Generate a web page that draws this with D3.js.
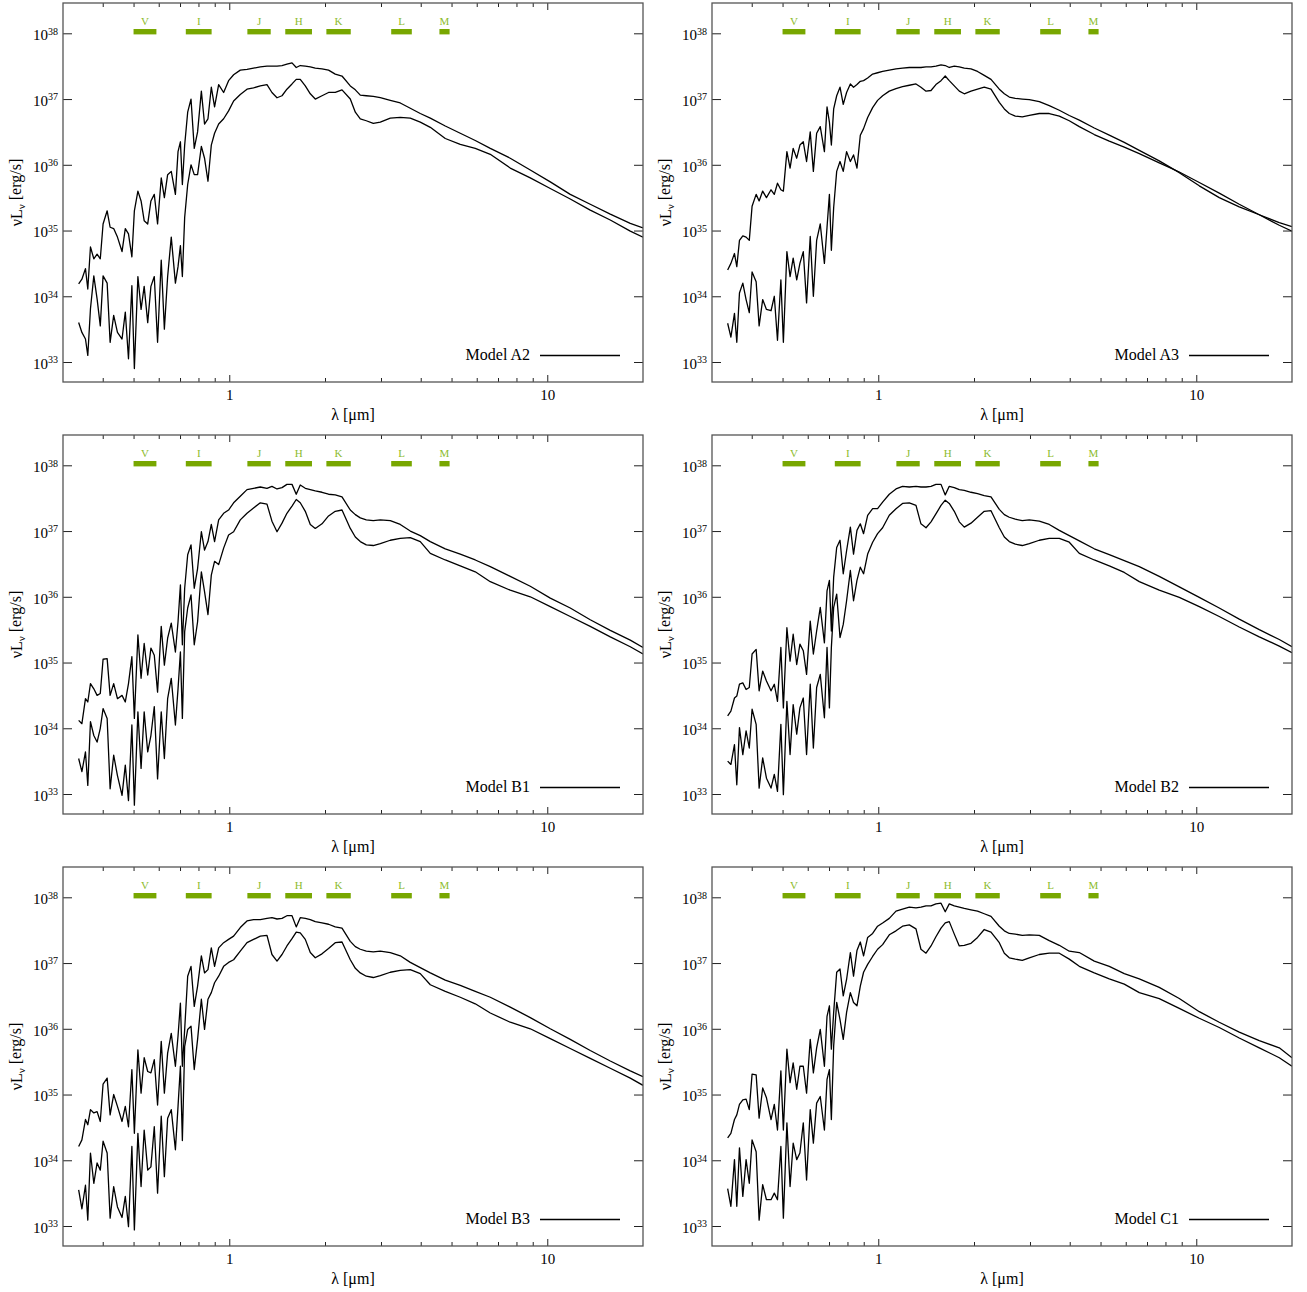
<!DOCTYPE html>
<html><head><meta charset="utf-8">
<script src="https://cdn.jsdelivr.net/npm/d3@7"></script>
<style>
body{margin:0;background:#fff}
svg{display:block}
text{font-family:"Liberation Serif","DejaVu Serif",serif}
</style>
</head><body>
<svg id="c" width="1307" height="1292"></svg>
<script>
// wavelength grid (micron)
const lam = [0.336,0.344,0.353,0.359,0.366,0.375,0.384,0.393,0.401,0.413,
0.422,0.433,0.445,0.460,0.471,0.482,0.494,0.503,0.516,0.528,
0.540,0.554,0.567,0.581,0.595,0.611,0.625,0.640,0.657,0.677,
0.690,0.702,0.712,0.724,0.740,0.758,0.776,0.795,0.817,0.836,
0.857,0.878,0.899,0.926,0.960,0.995,1.032,1.083,1.137,1.192,
1.252,1.314,1.362,1.413,1.465,1.518,1.575,1.624,1.672,1.734,
1.798,1.864,1.957,2.052,
2.154,2.262,2.402,2.491,2.582,2.697,2.837,2.985,3.209,3.449,3.709,3.987,4.287,4.778,5.326,5.937,6.619,7.648,8.842,10.22,11.81,13.65,15.78,18.24,20.0];

// log10(nu L_nu [erg/s]) for each model, upper and lower spectrum
const A2_hi = [34.19,34.26,34.42,34.11,34.75,34.57,34.64,34.57,35.10,35.30,
35.05,35.03,34.90,34.68,35.03,34.95,34.60,35.30,35.60,35.45,
35.15,35.10,35.45,35.55,35.10,35.80,35.50,35.85,35.90,35.55,
36.20,36.35,35.70,36.30,36.80,37.00,36.25,36.50,37.12,36.62,
36.70,37.18,36.88,37.22,37.10,37.28,37.37,37.44,37.45,37.47,
37.49,37.50,37.50,37.50,37.51,37.53,37.55,37.48,37.51,37.50,
37.49,37.47,37.46,37.44,
37.38,37.35,37.20,37.14,37.06,37.05,37.04,37.02,36.98,36.94,36.86,36.78,36.71,36.59,36.48,36.37,36.25,36.10,35.92,35.74,35.55,35.40,35.25,35.11,35.04];
const A2_lo = [33.60,33.45,33.35,33.10,33.81,34.31,33.96,33.55,34.31,34.20,
33.30,33.71,33.45,33.35,33.76,33.05,34.16,32.90,34.30,33.80,
34.15,33.60,34.15,34.30,33.30,34.55,33.50,34.30,34.90,34.20,
34.45,34.77,34.30,35.20,35.70,36.00,35.85,35.85,36.28,36.10,
35.75,36.30,36.48,36.62,36.70,36.82,36.97,37.07,37.15,37.17,
37.20,37.22,37.10,37.02,37.05,37.15,37.23,37.30,37.30,37.20,
37.08,37.00,37.05,37.10,
37.10,37.14,37.00,36.80,36.70,36.67,36.63,36.65,36.71,36.72,36.71,36.65,36.57,36.40,36.31,36.25,36.16,35.95,35.80,35.64,35.48,35.31,35.16,34.99,34.90];
const A3_hi = [34.40,34.50,34.65,34.45,34.85,34.92,34.90,34.85,35.37,35.55,
35.45,35.60,35.50,35.62,35.55,35.72,35.62,35.60,36.20,35.95,
36.25,36.10,36.30,36.35,36.05,36.50,35.90,36.48,36.58,36.20,
36.88,36.65,36.30,36.85,37.05,37.18,36.92,37.10,37.23,37.18,
37.22,37.27,37.28,37.32,37.38,37.40,37.42,37.44,37.46,37.47,
37.48,37.48,37.48,37.49,37.49,37.50,37.52,37.51,37.48,37.50,
37.49,37.47,37.46,37.42,
37.36,37.30,37.15,37.08,37.03,37.01,37.00,36.99,36.96,36.90,36.83,36.75,36.68,36.56,36.45,36.34,36.22,36.06,35.88,35.68,35.50,35.36,35.24,35.12,35.06];
const A3_lo = [33.59,33.38,33.74,33.30,34.05,34.20,33.95,33.75,34.37,34.22,
33.55,33.95,33.80,33.78,34.00,33.33,34.25,33.30,34.68,34.30,
34.58,34.25,34.50,34.68,33.90,34.91,34.00,34.85,35.10,34.50,
35.05,35.55,34.70,35.35,35.90,36.05,35.90,36.20,36.05,36.15,
35.95,36.45,36.55,36.72,36.87,36.98,37.05,37.12,37.16,37.19,
37.21,37.23,37.18,37.12,37.13,37.22,37.28,37.35,37.28,37.20,
37.12,37.08,37.12,37.15,
37.18,37.15,36.95,36.85,36.78,36.74,36.73,36.75,36.78,36.78,36.74,36.67,36.58,36.46,36.36,36.27,36.17,36.03,35.89,35.73,35.57,35.40,35.24,35.08,34.99];
const B1_hi = [34.12,34.07,34.45,34.40,34.68,34.60,34.50,34.53,35.05,35.06,
34.50,34.68,34.45,34.50,34.40,34.68,35.09,34.15,35.42,34.76,
35.29,34.81,35.22,35.11,34.55,35.55,34.96,35.37,35.60,35.16,
35.62,36.18,35.27,36.13,36.64,36.79,36.13,36.43,36.99,36.71,
36.84,37.10,36.84,37.17,37.27,37.32,37.43,37.53,37.63,37.65,
37.67,37.65,37.68,37.64,37.66,37.71,37.71,37.56,37.70,37.65,
37.63,37.61,37.59,37.56,
37.55,37.52,37.32,37.25,37.20,37.17,37.16,37.17,37.16,37.10,37.00,36.93,36.84,36.73,36.65,36.56,36.46,36.31,36.16,35.98,35.83,35.65,35.49,35.34,35.23];
const B1_lo = [33.54,33.34,33.64,33.13,34.10,33.89,33.79,34.00,34.30,34.15,
33.08,33.59,33.28,32.98,33.44,32.90,34.05,32.83,34.25,33.39,
34.25,33.64,33.89,34.33,33.23,34.25,33.54,34.45,34.76,34.05,
34.60,35.16,34.15,35.47,35.83,36.03,35.27,35.62,36.38,36.08,
35.73,36.33,36.54,36.49,36.74,36.94,36.99,37.17,37.27,37.35,
37.43,37.41,37.15,36.99,37.12,37.27,37.38,37.48,37.43,37.30,
37.10,37.04,37.11,37.23,
37.30,37.32,37.04,36.91,36.84,36.79,36.78,36.81,36.86,36.89,36.90,36.84,36.66,36.56,36.47,36.38,36.23,36.10,36.00,35.85,35.70,35.55,35.39,35.24,35.13];
const B2_hi = [34.19,34.26,34.46,34.49,34.67,34.69,34.59,34.62,35.13,35.20,
34.57,34.87,34.72,34.57,34.67,34.41,35.23,34.31,35.53,35.02,
35.43,34.97,35.28,35.18,34.82,35.63,35.13,35.48,35.84,35.30,
36.09,36.25,35.48,36.30,36.75,36.86,36.35,36.70,37.06,36.65,
37.01,37.11,36.96,37.24,37.34,37.34,37.44,37.56,37.64,37.68,
37.67,37.68,37.67,37.67,37.68,37.71,37.71,37.55,37.68,37.66,
37.63,37.62,37.59,37.57,
37.54,37.52,37.33,37.25,37.21,37.18,37.16,37.17,37.15,37.10,37.01,36.93,36.85,36.73,36.64,36.55,36.46,36.31,36.15,35.99,35.83,35.66,35.50,35.35,35.24];
const B2_lo = [33.50,33.45,33.75,33.14,34.01,33.60,33.96,33.70,34.29,34.06,
33.09,33.55,33.24,33.09,33.30,33.04,34.06,32.99,34.41,33.60,
34.36,33.91,34.31,34.46,33.60,34.67,33.70,34.62,34.82,34.16,
35.23,34.31,35.23,35.84,36.04,35.38,35.58,35.94,36.40,35.94,
36.25,36.45,36.35,36.65,36.83,36.96,37.05,37.24,37.34,37.42,
37.43,37.39,37.11,37.05,37.14,37.26,37.39,37.47,37.42,37.30,
37.14,37.06,37.12,37.21,
37.30,37.31,37.05,36.91,36.84,36.80,36.78,36.81,36.86,36.89,36.89,36.83,36.66,36.56,36.47,36.37,36.23,36.10,35.99,35.85,35.70,35.54,35.39,35.25,35.15];
const B3_hi = [34.21,34.31,34.62,34.54,34.77,34.72,34.74,34.59,35.16,35.25,
34.69,35.00,34.82,34.59,34.82,34.51,35.38,34.41,35.68,35.02,
35.56,35.35,35.33,35.53,34.84,35.81,35.02,35.63,35.93,35.43,
35.89,36.39,35.43,35.99,36.80,36.95,36.34,36.65,37.11,36.85,
36.90,37.23,36.95,37.23,37.31,37.36,37.41,37.54,37.64,37.66,
37.66,37.68,37.69,37.67,37.68,37.72,37.72,37.55,37.69,37.68,
37.66,37.63,37.61,37.59,
37.55,37.53,37.33,37.25,37.21,37.18,37.17,37.18,37.16,37.11,37.01,36.93,36.85,36.74,36.66,36.57,36.48,36.33,36.17,36.00,35.84,35.67,35.51,35.36,35.27];
const B3_lo = [33.55,33.26,33.62,33.09,34.11,33.65,33.96,33.85,34.29,34.11,
33.12,33.60,33.29,33.13,33.45,32.99,34.21,32.94,34.41,33.60,
34.46,33.85,33.90,34.51,33.50,34.67,33.75,34.64,34.77,34.16,
34.82,35.43,34.30,35.73,35.99,36.04,35.38,35.84,36.45,35.99,
36.45,36.55,36.70,36.80,36.95,37.01,37.05,37.18,37.31,37.36,
37.41,37.42,37.13,37.03,37.13,37.26,37.37,37.47,37.46,37.36,
37.16,37.08,37.14,37.22,
37.31,37.32,37.05,36.92,36.85,36.80,36.78,36.81,36.86,36.89,36.90,36.84,36.67,36.57,36.48,36.38,36.24,36.10,36.00,35.85,35.70,35.55,35.40,35.25,35.14];
const C1_hi = [34.34,34.41,34.62,34.69,34.85,34.92,34.93,34.77,35.31,35.30,
34.64,35.10,34.95,34.62,34.85,34.46,35.36,34.46,35.69,35.18,
35.48,35.08,35.43,35.43,35.02,35.84,35.33,35.71,35.99,35.43,
36.19,36.35,35.69,36.25,36.86,36.91,36.50,36.75,37.16,36.80,
37.19,37.32,37.11,37.39,37.45,37.56,37.61,37.68,37.79,37.82,
37.85,37.84,37.85,37.87,37.87,37.90,37.91,37.78,37.90,37.87,
37.85,37.83,37.81,37.79,
37.75,37.71,37.56,37.49,37.45,37.44,37.42,37.43,37.42,37.34,37.27,37.18,37.16,37.03,36.95,36.84,36.76,36.63,36.46,36.26,36.10,35.95,35.82,35.71,35.56];
const C1_lo = [33.57,33.30,34.01,33.30,34.19,33.45,34.01,33.65,34.31,34.13,
33.09,33.63,33.40,33.40,33.50,33.40,34.21,33.12,34.57,33.60,
34.26,34.01,34.11,34.57,33.70,34.77,34.26,34.87,34.97,34.46,
35.23,35.38,34.62,35.74,36.40,36.14,35.84,36.25,36.55,36.40,
36.35,36.65,36.86,36.98,37.10,37.21,37.28,37.43,37.49,37.56,
37.58,37.52,37.21,37.15,37.26,37.40,37.53,37.61,37.63,37.44,
37.26,37.27,37.30,37.39,
37.51,37.47,37.31,37.15,37.08,37.06,37.04,37.08,37.13,37.15,37.15,37.06,36.95,36.85,36.76,36.68,36.55,36.46,36.31,36.16,36.02,35.86,35.71,35.56,35.43];

const models = ["A2","A3","B1","B2","B3","C1"];
const modelSpectra = [[A2_hi,A2_lo],[A3_hi,A3_lo],[B1_hi,B1_lo],[B2_hi,B2_lo],[B3_hi,B3_lo],[C1_hi,C1_lo]];

// photometric bands (micron)
const bandNames = ["V","I","J","H","K","L","M"];
const bandLo = [0.50,0.73,1.14,1.50,2.02,3.23,4.58];
const bandHi = [0.59,0.88,1.35,1.82,2.41,3.75,4.93];

// ticks
const xMajor = [1,10];
const xMinor = [0.4,0.5,0.6,0.7,0.8,0.9,2,3,4,5,6,7,8,9];
const yTickExp = [33,34,35,36,37,38];

const svg = d3.select("#c");
const PW = 580, PH = 379;
const lefts = [63, 712], tops = [3, 435, 867];
const serif = '"Liberation Serif","DejaVu Serif",serif';

const x = d3.scaleLog().domain([0.3, 20]).range([0, PW]);
const y = d3.scaleLog().domain([Math.pow(10,32.696), Math.pow(10,38.461)]).range([PH, 0]);

const line = d3.line().x(d => x(d[0])).y(d => y(Math.pow(10, d[1])));

models.forEach((m, i) => {
  const col = i % 2, row = Math.floor(i / 2);
  const g = svg.append("g").attr("transform", `translate(${lefts[col]},${tops[row]})`);

  g.append("clipPath").attr("id", "clip" + i).append("rect").attr("width", PW).attr("height", PH);

  // bands
  const bg = g.append("g");
  bandNames.forEach((b, k) => {
    bg.append("rect").attr("x", x(bandLo[k])).attr("y", 26).attr("width", x(bandHi[k]) - x(bandLo[k])).attr("height", 5.4).attr("fill", "#78a700");
    bg.append("text").attr("x", (x(bandLo[k]) + x(bandHi[k])) / 2).attr("y", 21.7).attr("text-anchor", "middle")
      .attr("font-size", 11).attr("font-family", serif).attr("fill", "#8cbb2c").text(b);
  });

  // spectra
  const cg = g.append("g").attr("clip-path", `url(#clip${i})`);
  modelSpectra[i].forEach(s => {
    cg.append("path").datum(lam.map((l, k) => [l, s[k]])).attr("d", line)
      .attr("fill", "none").attr("stroke", "#000").attr("stroke-width", 1.3).attr("stroke-linejoin", "round");
  });

  // axes
  const styleAx = sel => { sel.select(".domain").remove(); sel.attr("font-family", serif).attr("font-size", 15); sel.selectAll("line").attr("stroke", "#222"); };
  g.append("g").attr("transform", `translate(0,${PH})`)
    .call(d3.axisBottom(x).tickValues(xMajor).tickSizeInner(-7).tickSizeOuter(0).tickPadding(7).tickFormat(d3.format("d"))).call(styleAx);
  g.append("g").attr("transform", `translate(0,${PH})`)
    .call(d3.axisBottom(x).tickValues(xMinor).tickSizeInner(-4).tickSizeOuter(0).tickFormat("")).call(styleAx);
  g.append("g").call(d3.axisTop(x).tickValues(xMajor).tickSizeInner(-7).tickSizeOuter(0).tickFormat("")).call(styleAx);
  g.append("g").call(d3.axisTop(x).tickValues(xMinor).tickSizeInner(-4).tickSizeOuter(0).tickFormat("")).call(styleAx);
  const yVals = yTickExp.map(e => Math.pow(10, e));
  g.append("g").call(d3.axisLeft(y).tickValues(yVals).tickSizeInner(-9).tickSizeOuter(0).tickPadding(5).tickFormat(""))
    .call(styleAx)
    .call(sel => sel.selectAll("text").each(function(d) {
      const t = d3.select(this).attr("dy", "0.42em");
      t.append("tspan").text("10");
      t.append("tspan").attr("dy", "-0.55em").attr("font-size", 10).text(Math.round(Math.log10(d)));
    }));
  g.append("g").attr("transform", `translate(${PW},0)`)
    .call(d3.axisRight(y).tickValues(yVals).tickSizeInner(-9).tickSizeOuter(0).tickFormat("")).call(styleAx);

  // frame
  g.append("rect").attr("width", PW).attr("height", PH).attr("fill", "none").attr("stroke", "#555").attr("stroke-width", 1.3);

  // axis titles
  g.append("text").attr("x", PW / 2).attr("y", PH + 38).attr("text-anchor", "middle")
    .attr("font-size", 16).attr("font-family", serif).text("λ [μm]");
  const yl = g.append("text").attr("transform", `translate(-41,${PH / 2}) rotate(-90)`).attr("text-anchor", "middle")
    .attr("font-size", 16).attr("font-family", serif);
  yl.append("tspan").text("νL");
  yl.append("tspan").attr("font-size", 11).attr("dy", "0.3em").text("ν");
  yl.append("tspan").attr("dy", "-0.3em").text(" [erg/s]");

  // legend
  g.append("text").attr("x", 467).attr("y", 357).attr("text-anchor", "end")
    .attr("font-size", 16).attr("font-family", serif).text("Model " + m);
  g.append("line").attr("x1", 477).attr("x2", 557).attr("y1", 352.5).attr("y2", 352.5)
    .attr("stroke", "#000").attr("stroke-width", 1.3);
});
</script>
</body></html>
